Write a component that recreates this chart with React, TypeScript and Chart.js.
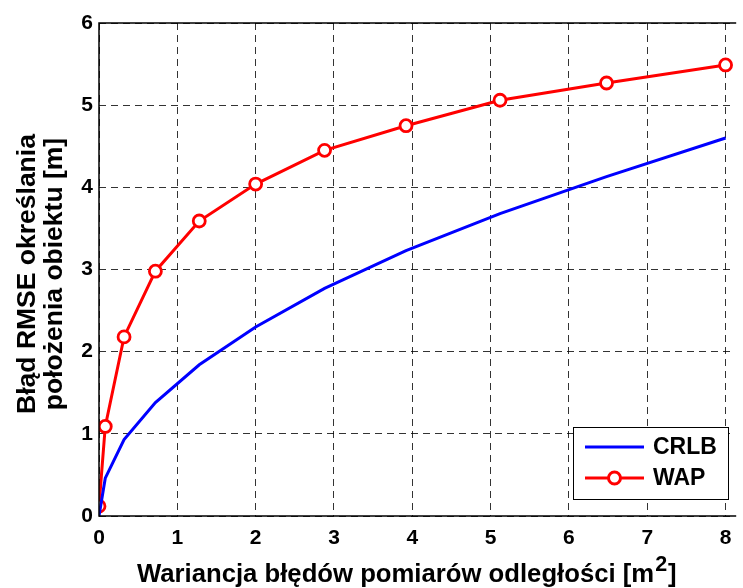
import React, { useEffect, useRef } from "react";
import { Chart, registerables } from "chart.js";

Chart.register(...registerables);

const xValues = [0, 0.08, 0.32, 0.72, 1.28, 2.0, 2.88, 3.92, 5.12, 6.48, 8.0];
const crlbValues = [0.0, 0.46, 0.93, 1.38, 1.84, 2.3, 2.77, 3.23, 3.68, 4.13, 4.6];
const wapValues = [0.12, 1.09, 2.18, 2.98, 3.59, 4.04, 4.45, 4.75, 5.06, 5.27, 5.49];
const xTicks = [0, 1, 2, 3, 4, 5, 6, 7, 8];
const yTicks = [0, 1, 2, 3, 4, 5, 6];
const seriesNames = ["CRLB", "WAP"];
const xTitleMain = "Wariancja błędów pomiarów odległości [m";
const xTitleSup = "2";
const xTitleEnd = "]";
const yTitleLines = ["Błąd RMSE określania", "położenia obiektu [m]"];

const FONT = "'Liberation Sans', Arial, Helvetica, sans-serif";
const X_TITLE_SIZE = 25.7;
const Y_TITLE_SIZE = 26.5;
const SUP_SIZE = 21.5;

const decorPlugin = {
  id: "decor",
  afterDraw(chart: any) {
    const ctx = chart.ctx;
    const a = chart.chartArea;
    ctx.save();
    // axes box: left, bottom, top
    ctx.strokeStyle = "#000";
    ctx.lineWidth = 1.5;
    ctx.setLineDash([]);
    ctx.beginPath();
    ctx.moveTo(a.right + 2, a.top);
    ctx.lineTo(a.left, a.top);
    ctx.lineTo(a.left, a.bottom);
    ctx.lineTo(a.right + 2, a.bottom);
    ctx.stroke();

    // x title with superscript
    ctx.fillStyle = "#000";
    ctx.textBaseline = "alphabetic";
    ctx.textAlign = "left";
    ctx.font = `bold ${X_TITLE_SIZE}px ${FONT}`;
    const wMain = ctx.measureText(xTitleMain).width;
    ctx.font = `bold ${SUP_SIZE}px ${FONT}`;
    const wSup = ctx.measureText(xTitleSup).width;
    const x0 = 137;
    const by = 582;
    ctx.font = `bold ${X_TITLE_SIZE}px ${FONT}`;
    ctx.fillText(xTitleMain, x0, by);
    ctx.font = `bold ${SUP_SIZE}px ${FONT}`;
    ctx.fillText(xTitleSup, x0 + wMain + 1, by - 11);
    ctx.font = `bold ${X_TITLE_SIZE}px ${FONT}`;
    ctx.fillText(xTitleEnd, x0 + wMain + wSup + 2, by);

    // y title (two lines, rotated)
    ctx.save();
    ctx.translate(0, 274);
    ctx.rotate(-Math.PI / 2);
    ctx.textAlign = "center";
    ctx.font = `bold ${Y_TITLE_SIZE}px ${FONT}`;
    ctx.fillText(yTitleLines[0], 0, 35);
    ctx.fillText(yTitleLines[1], 0, 62);
    ctx.restore();

    // legend
    const lx = 573, ly = 427, lw = 155, lh = 72;
    ctx.fillStyle = "#fff";
    ctx.fillRect(lx, ly, lw, lh);
    ctx.strokeStyle = "#000";
    ctx.lineWidth = 1;
    ctx.strokeRect(lx + 0.5, ly + 0.5, lw, lh);
    const rows = [ly + 20, ly + 51];
    const colors = ["#0000ff", "#ff0000"];
    for (let i = 0; i < 2; i++) {
      ctx.strokeStyle = colors[i];
      ctx.lineWidth = 3;
      ctx.beginPath();
      ctx.moveTo(585, rows[i]);
      ctx.lineTo(644, rows[i]);
      ctx.stroke();
      if (i === 1) {
        ctx.fillStyle = "#fff";
        ctx.beginPath();
        ctx.arc(614.5, rows[i], 6, 0, Math.PI * 2);
        ctx.fill();
        ctx.stroke();
      }
      ctx.fillStyle = "#000";
      ctx.font = `bold 23px ${FONT}`;
      ctx.textAlign = "left";
      ctx.textBaseline = "middle";
      ctx.fillText(seriesNames[i], 653, rows[i] + 1);
    }
    ctx.restore();
  },
};

export default function App() {
  const ref = useRef<HTMLCanvasElement | null>(null);
  useEffect(() => {
    if (!ref.current) return;
    const chart = new Chart(ref.current, {
      type: "line",
      data: {
        datasets: [
          {
            label: seriesNames[0],
            data: xValues.map((x, i) => ({ x, y: crlbValues[i] })),
            borderColor: "#0000ff",
            borderWidth: 3,
            pointRadius: 0,
            tension: 0,
          },
          {
            label: seriesNames[1],
            data: xValues.map((x, i) => ({ x, y: wapValues[i] })),
            borderColor: "#ff0000",
            borderWidth: 3,
            pointRadius: 6,
            pointBorderWidth: 2.8,
            pointBackgroundColor: "#ffffff",
            pointBorderColor: "#ff0000",
            tension: 0,
          },
        ],
      },
      options: {
        responsive: false,
        animation: false,
        events: [],
        layout: { padding: { top: 23, right: 0, left: 0, bottom: 0 } },
        plugins: { legend: { display: false }, tooltip: { enabled: false } },
        scales: {
          x: {
            type: "linear",
            min: 0,
            max: 8.11,
            afterBuildTicks: (s: any) => {
              s.ticks = xTicks.map((v) => ({ value: v }));
            },
            afterFit: (s: any) => {
              s.height = 72;
            },
            grid: {
              color: "rgba(0,0,0,0.8)",
              lineWidth: 1,
              drawTicks: false,
            },
            border: { display: false, dash: [7, 5] },
            ticks: {
              color: "#000",
              padding: 10,
              maxRotation: 0,
              font: { family: FONT, size: 21, weight: "bold" },
            },
          },
          y: {
            type: "linear",
            min: 0,
            max: 6,
            afterBuildTicks: (s: any) => {
              s.ticks = yTicks.map((v) => ({ value: v }));
            },
            afterFit: (s: any) => {
              s.width = 99;
            },
            grid: {
              color: "rgba(0,0,0,0.8)",
              lineWidth: 1,
              drawTicks: false,
            },
            border: { display: false, dash: [7, 5] },
            ticks: {
              color: "#000",
              padding: 6,
              font: { family: FONT, size: 21, weight: "bold" },
            },
          },
        },
      } as any,
      plugins: [decorPlugin],
    });
    return () => chart.destroy();
  }, []);
  return (
    <div style={{ position: "fixed", left: 0, top: 0, width: 743, height: 588, background: "#fff" }}>
      <canvas ref={ref} width={743} height={588} style={{ width: 743, height: 588 }} />
    </div>
  );
}
